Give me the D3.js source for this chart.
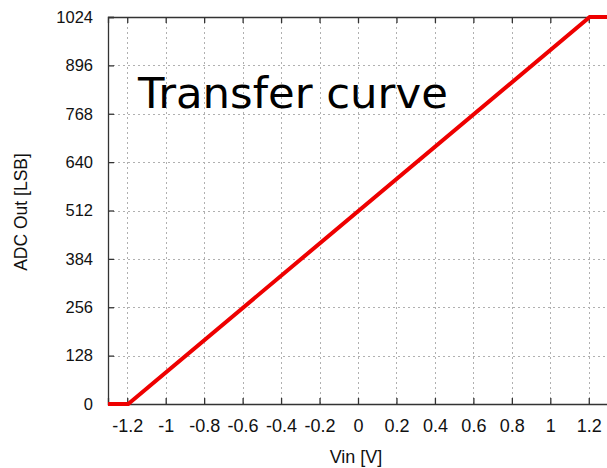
<!DOCTYPE html>
<html><head><meta charset="utf-8">
<script src="https://cdn.jsdelivr.net/npm/d3@7"></script>
<style>
body{margin:0;background:#fff;}
svg{display:block;}
</style></head>
<body>
<svg id="c" width="607" height="468"></svg>
<script>
const vin = [-1.3, -1.195, 1.205, 1.3];
const adcOut = [0, 0, 1024, 1024];
const xTicks = [-1.2, -1, -0.8, -0.6, -0.4, -0.2, 0, 0.2, 0.4, 0.6, 0.8, 1, 1.2];
const yTicks = [0, 128, 256, 384, 512, 640, 768, 896, 1024];
const title = "Transfer curve";
const xLabel = "Vin [V]";
const yLabel = "ADC Out [LSB]";

const svg = d3.select("#c");
const L = 108, R = 608, T = 17, B = 404;
const x = d3.scaleLinear().domain([-1.3, 1.3]).range([L, R]);
const y = d3.scaleLinear().domain([0, 1024]).range([B, T]);
const font = "'Liberation Sans', Arial, sans-serif";

// grid
const g = svg.append("g");
g.selectAll("line.gx").data(xTicks).join("line")
  .attr("x1", d => Math.round(x(d)) + 0.5).attr("x2", d => Math.round(x(d)) + 0.5)
  .attr("y1", T).attr("y2", B)
  .attr("stroke", "#b0b0b0").attr("stroke-width", 1).attr("stroke-dasharray", "2,3");
g.selectAll("line.gy").data(yTicks.filter(d => d > 0 && d < 1024)).join("line")
  .attr("y1", d => Math.round(y(d)) + 0.5).attr("y2", d => Math.round(y(d)) + 0.5)
  .attr("x1", L).attr("x2", R)
  .attr("stroke", "#b0b0b0").attr("stroke-width", 1).attr("stroke-dasharray", "2,3");

// axes
const xAxis = d3.axisBottom(x).tickValues(xTicks).tickSize(-6).tickPadding(15)
  .tickFormat(d => String(d));
const gx = svg.append("g").attr("transform", `translate(0,${B})`).call(xAxis);
const xTop = d3.axisTop(x).tickValues(xTicks).tickSize(-6).tickFormat("");
const gxt = svg.append("g").attr("transform", `translate(0,${T})`).call(xTop);
const yAxis = d3.axisLeft(y).tickValues(yTicks).tickSize(-6).tickPadding(15)
  .tickFormat(d3.format("d"));
const gy = svg.append("g").attr("transform", `translate(${L},0)`).call(yAxis);
[gx, gxt, gy].forEach(a => {
  a.select(".domain").attr("stroke", "#333").attr("stroke-width", 1.3);
  a.selectAll(".tick line").attr("stroke", "#333").attr("stroke-width", 1.3);
  a.selectAll("text").attr("font-family", font).attr("fill", "#111");
});
gx.selectAll("text").attr("font-size", 18);
gy.selectAll("text").attr("font-size", 16.5);

// line
svg.append("path")
  .datum(vin.map((v, i) => [v, adcOut[i]]))
  .attr("fill", "none").attr("stroke", "#ee0000").attr("stroke-width", 4)
  .attr("d", d3.line().x(d => x(d[0])).y(d => y(d[1])));

// title
svg.append("text").attr("x", 138).attr("y", 108)
  .attr("font-family", "'DejaVu Sans', Verdana, sans-serif").attr("font-size", 43.4)
  .attr("fill", "#000").text(title);

svg.append("text").attr("x", 356).attr("y", 463).attr("text-anchor", "middle")
  .attr("font-family", font).attr("font-size", 18).attr("fill", "#111").text(xLabel);
svg.append("text").attr("transform", "translate(27,212) rotate(-90)").attr("text-anchor", "middle")
  .attr("font-family", font).attr("font-size", 17.5).attr("fill", "#111").text(yLabel);
</script>
</body></html>
